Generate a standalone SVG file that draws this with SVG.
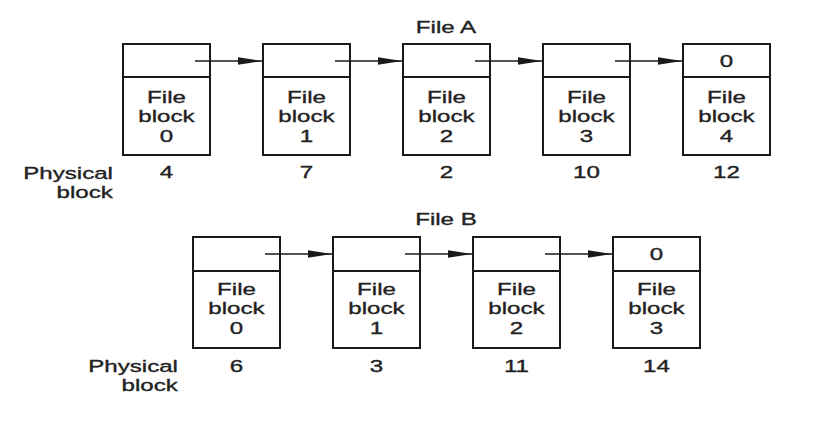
<svg xmlns="http://www.w3.org/2000/svg" width="815" height="431" viewBox="0 0 815 431">
<style>
.bg{fill:#ffffff}
.box{fill:none;stroke:#1a1a1a;stroke-width:2}
.t{font-family:"Liberation Sans",Arial,sans-serif;font-size:17px;fill:#222;stroke:#222;stroke-width:0.35;text-anchor:middle;transform-box:fill-box;transform-origin:center;transform:scaleX(1.42)}
.r{font-family:"Liberation Sans",Arial,sans-serif;font-size:17px;fill:#222;stroke:#222;stroke-width:0.35;text-anchor:end;transform-box:fill-box;transform-origin:right center;transform:scaleX(1.42)}
.c{stroke:#1a1a1a;stroke-width:1.6;fill:none;marker-end:url(#ah)}
</style>
<defs>
<marker id="ah" markerUnits="userSpaceOnUse" markerWidth="25" markerHeight="9" refX="24" refY="4.5" orient="auto">
<path d="M0,0.8 L24,4.5 L0,8.2 z" fill="#1a1a1a"/>
</marker>
</defs>
<rect class="bg" x="0" y="0" width="815" height="431"/>

<text class="t" x="446" y="33">File A</text>
<text class="t" x="446" y="225">File B</text>

<g id="labelsA">
<text class="r" x="113" y="179">Physical</text>
<text class="r" x="113" y="198">block</text>
</g>
<g id="labelsB">
<text class="r" x="178" y="372">Physical</text>
<text class="r" x="178" y="391">block</text>
</g>

<g id="a0">
<rect class="box" x="123" y="44" width="87" height="111"/>
<line class="box" x1="123" y1="77" x2="210" y2="77"/>
<text class="t" x="166.5" y="103">File</text>
<text class="t" x="166.5" y="122.5">block</text>
<text class="t" x="166.5" y="142">0</text>
<text class="t" x="166.5" y="178">4</text>
</g>
<g id="a1">
<rect class="box" x="263" y="44" width="87" height="111"/>
<line class="box" x1="263" y1="77" x2="350" y2="77"/>
<text class="t" x="306.5" y="103">File</text>
<text class="t" x="306.5" y="122.5">block</text>
<text class="t" x="306.5" y="142">1</text>
<text class="t" x="306.5" y="178">7</text>
</g>
<g id="a2">
<rect class="box" x="403" y="44" width="87" height="111"/>
<line class="box" x1="403" y1="77" x2="490" y2="77"/>
<text class="t" x="446.5" y="103">File</text>
<text class="t" x="446.5" y="122.5">block</text>
<text class="t" x="446.5" y="142">2</text>
<text class="t" x="446.5" y="178">2</text>
</g>
<g id="a3">
<rect class="box" x="543" y="44" width="87" height="111"/>
<line class="box" x1="543" y1="77" x2="630" y2="77"/>
<text class="t" x="586.5" y="103">File</text>
<text class="t" x="586.5" y="122.5">block</text>
<text class="t" x="586.5" y="142">3</text>
<text class="t" x="586.5" y="178">10</text>
</g>
<g id="a4">
<rect class="box" x="683" y="44" width="87" height="111"/>
<line class="box" x1="683" y1="77" x2="770" y2="77"/>
<text class="t" x="726.5" y="67">0</text>
<text class="t" x="726.5" y="103">File</text>
<text class="t" x="726.5" y="122.5">block</text>
<text class="t" x="726.5" y="142">4</text>
<text class="t" x="726.5" y="178">12</text>
</g>

<g id="b0">
<rect class="box" x="193" y="237" width="87" height="111"/>
<line class="box" x1="193" y1="271" x2="280" y2="271"/>
<text class="t" x="236.5" y="295">File</text>
<text class="t" x="236.5" y="314.5">block</text>
<text class="t" x="236.5" y="334">0</text>
<text class="t" x="236.5" y="372">6</text>
</g>
<g id="b1">
<rect class="box" x="333" y="237" width="87" height="111"/>
<line class="box" x1="333" y1="271" x2="420" y2="271"/>
<text class="t" x="376.5" y="295">File</text>
<text class="t" x="376.5" y="314.5">block</text>
<text class="t" x="376.5" y="334">1</text>
<text class="t" x="376.5" y="372">3</text>
</g>
<g id="b2">
<rect class="box" x="473" y="237" width="87" height="111"/>
<line class="box" x1="473" y1="271" x2="560" y2="271"/>
<text class="t" x="516.5" y="295">File</text>
<text class="t" x="516.5" y="314.5">block</text>
<text class="t" x="516.5" y="334">2</text>
<text class="t" x="516.5" y="372">11</text>
</g>
<g id="b3">
<rect class="box" x="613" y="237" width="87" height="111"/>
<line class="box" x1="613" y1="271" x2="700" y2="271"/>
<text class="t" x="656.5" y="260">0</text>
<text class="t" x="656.5" y="295">File</text>
<text class="t" x="656.5" y="314.5">block</text>
<text class="t" x="656.5" y="334">3</text>
<text class="t" x="656.5" y="372">14</text>
</g>

<g id="connectors">
<line class="c" x1="195" y1="61" x2="262" y2="61"/>
<line class="c" x1="335" y1="61" x2="402" y2="61"/>
<line class="c" x1="475" y1="61" x2="542" y2="61"/>
<line class="c" x1="615" y1="61" x2="682" y2="61"/>
<line class="c" x1="265" y1="254" x2="332" y2="254"/>
<line class="c" x1="405" y1="254" x2="472" y2="254"/>
<line class="c" x1="545" y1="254" x2="612" y2="254"/>
</g>
</svg>
